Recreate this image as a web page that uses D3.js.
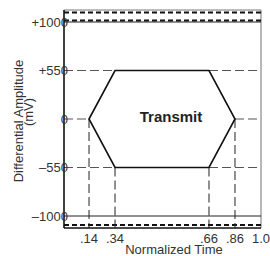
<!DOCTYPE html>
<html>
<head>
<meta charset="utf-8">
<script src="https://cdn.jsdelivr.net/npm/d3@7/dist/d3.min.js"></script>
<style>
  body { margin: 0; background: #fff; }
  text { font-family: "Liberation Sans", Arial, sans-serif; fill: #333; }
</style>
</head>
<body>
<div id="chart"></div>
<script>
// tick labels and values (schematic axes, not to scale)
var ampValues = [1000, 550, 0, -550, -1000];
var ampLabels = ["+1000", "+550", "0", "\u2013550", "\u20131000"];
var timeValues = [0, 0.14, 0.34, 0.66, 0.86, 1.0];
var timeLabels = ["", ".14", ".34", ".66", ".86", "1.0"];

// transmit eye mask outline
var eyeTime = [0.14, 0.34, 0.66, 0.86, 0.66, 0.34];
var eyeAmp = [0, 550, 550, 0, -550, -550];

var width = 270, height = 256;
var margin = {top: 10, right: 9, bottom: 28, left: 64};
var w = width - margin.left - margin.right,
    h = height - margin.top - margin.bottom;

var svg = d3.select("#chart").append("svg")
    .attr("width", width)
    .attr("height", height);

// time axis is drawn stretched in the middle, like the original drawing
var timeFrac = [0, 0.127, 0.259, 0.736, 0.868, 1];
var xScale = d3.scaleLinear().domain(timeValues).range(timeFrac.map(function (f) { return margin.left + f * w; }));

// amplitude levels evenly spaced
var yTop = margin.top + 12, yBot = margin.top + 206;
var yScale = d3.scaleLinear().domain(ampValues)
    .range(ampValues.map(function (d, i) { return yTop + i * (yBot - yTop) / (ampValues.length - 1); }));

var x0 = margin.left, x1 = margin.left + w;
var y0 = margin.top, y1 = margin.top + h;

// frame: top and right grey
svg.append("line").attr("x1", x0).attr("x2", x1).attr("y1", y0).attr("y2", y0)
    .attr("stroke", "#777").attr("stroke-width", 1.2);
svg.append("line").attr("x1", x1).attr("x2", x1).attr("y1", y0).attr("y2", y1)
    .attr("stroke", "#888").attr("stroke-width", 1.2);

// +/-1000 limit lines
[1000, -1000].forEach(function (v) {
    svg.append("line").attr("x1", x0).attr("x2", x1)
        .attr("y1", yScale(v)).attr("y2", yScale(v))
        .attr("stroke", "#222").attr("stroke-width", 1);
});

// heavy dashed lines near the limits
[y0 + 2.5, yScale(1000) - 1.5, yScale(-1000) + 9].forEach(function (yy) {
    svg.append("line").attr("x1", x0).attr("x2", x1)
        .attr("y1", yy).attr("y2", yy)
        .attr("stroke", "#111").attr("stroke-width", 2)
        .attr("stroke-dasharray", "5,3");
});

// grey dashed reference lines
var hRefs = [
    {v: 550, a: 0, b: 0.34}, {v: 550, a: 0.66, b: 1},
    {v: 0, a: 0, b: 0.14}, {v: 0, a: 0.86, b: 1},
    {v: -550, a: 0, b: 0.34}, {v: -550, a: 0.66, b: 1}
];
hRefs.forEach(function (d) {
    svg.append("line")
        .attr("x1", xScale(d.a)).attr("x2", xScale(d.b))
        .attr("y1", yScale(d.v)).attr("y2", yScale(d.v))
        .attr("stroke", "#555").attr("stroke-width", 1)
        .attr("stroke-dasharray", "9,4");
});

var vRefs = [{t: 0.14, v: 0}, {t: 0.34, v: -550}, {t: 0.66, v: -550}, {t: 0.86, v: 0}];
vRefs.forEach(function (d) {
    svg.append("line")
        .attr("x1", xScale(d.t)).attr("x2", xScale(d.t))
        .attr("y1", yScale(d.v)).attr("y2", y1)
        .attr("stroke", "#222").attr("stroke-width", 1)
        .attr("stroke-dasharray", "9,4");
});

// eye mask
var pts = eyeTime.map(function (t, i) { return [xScale(t), yScale(eyeAmp[i])]; });
svg.append("path")
    .attr("d", d3.line()(pts) + "Z")
    .attr("fill", "none")
    .attr("stroke", "#111")
    .attr("stroke-width", 1.6)
    .attr("stroke-linejoin", "miter");

// axes (left + bottom black)
svg.append("line").attr("x1", x0).attr("x2", x0).attr("y1", y0).attr("y2", y1)
    .attr("stroke", "#111").attr("stroke-width", 1.6);
svg.append("line").attr("x1", x0).attr("x2", x1).attr("y1", y1).attr("y2", y1)
    .attr("stroke", "#111").attr("stroke-width", 1.6);

// y tick labels
svg.selectAll(".ylab").data(ampValues).enter().append("text")
    .attr("class", "ylab")
    .attr("x", x0 + 4)
    .attr("y", function (d) { return yScale(d); })
    .attr("dy", "0.35em")
    .attr("text-anchor", "end")
    .style("font-size", "13px")
    .text(function (d, i) { return ampLabels[i]; });

// x tick labels
svg.selectAll(".xlab").data(timeValues.slice(1)).enter().append("text")
    .attr("class", "xlab")
    .attr("x", function (d) { return xScale(d); })
    .attr("y", y1 + 15)
    .attr("text-anchor", "middle")
    .style("font-size", "13px")
    .text(function (d, i) { return timeLabels[i + 1]; });

// axis titles
svg.append("text")
    .attr("x", 174).attr("y", 254)
    .attr("text-anchor", "middle")
    .style("font-size", "13px")
    .text("Normalized Time");

svg.append("text")
    .attr("transform", "translate(23,121) rotate(-90)")
    .attr("text-anchor", "middle")
    .style("font-size", "13px")
    .text("Differential Amplitude");
svg.append("text")
    .attr("transform", "translate(33,112) rotate(-90)")
    .attr("text-anchor", "middle")
    .style("font-size", "13px")
    .text("(mV)");

svg.append("text")
    .attr("x", 171).attr("y", 122)
    .attr("text-anchor", "middle")
    .style("font-size", "15px")
    .style("font-weight", "bold")
    .style("fill", "#222")
    .text("Transmit");
</script>
</body>
</html>
